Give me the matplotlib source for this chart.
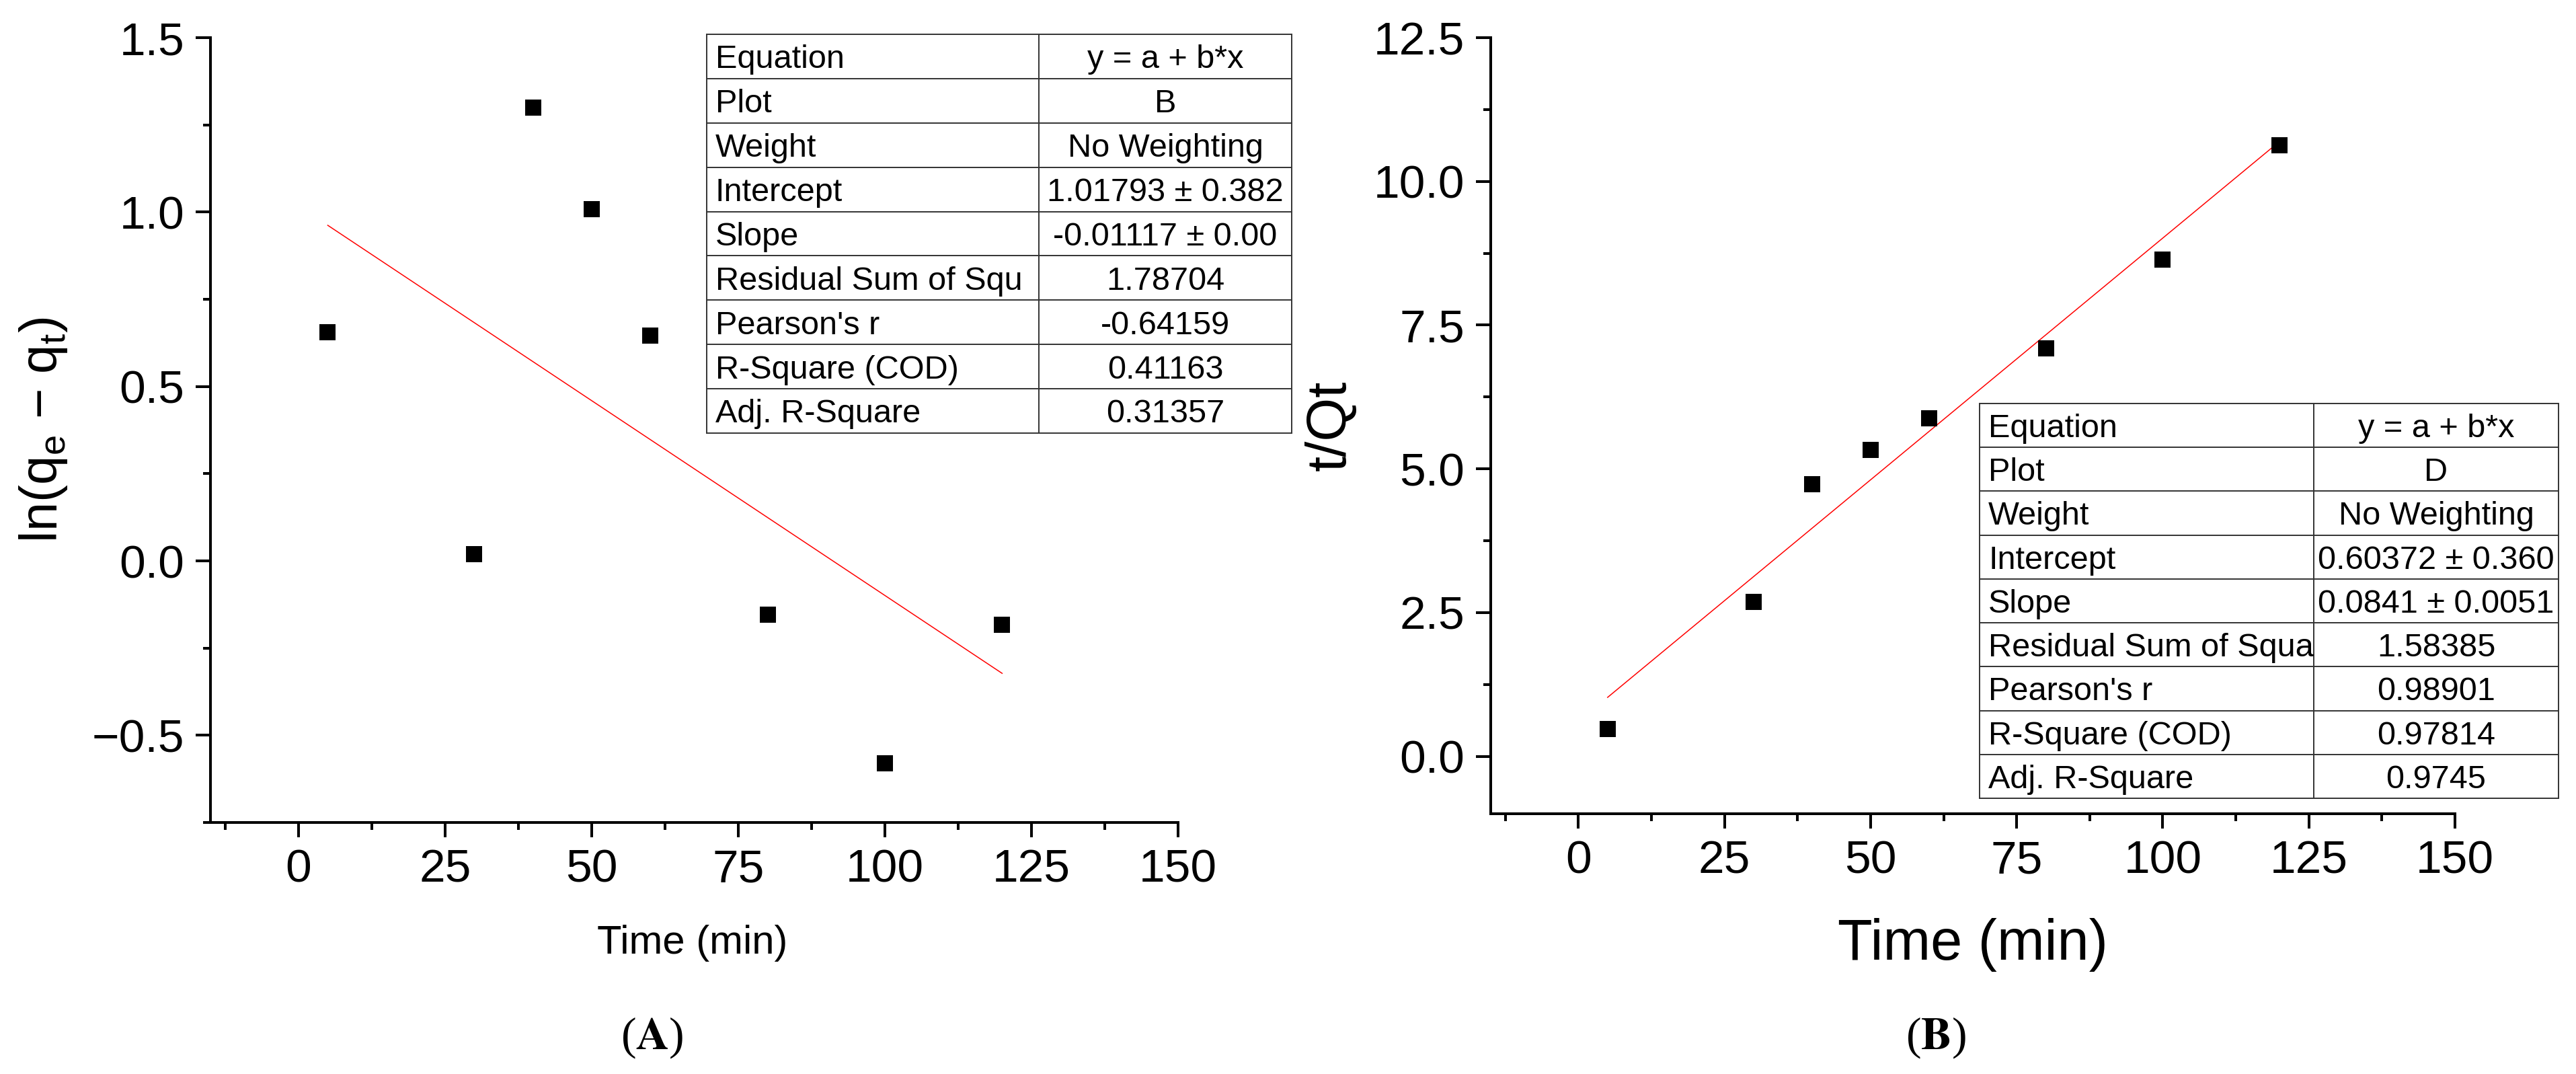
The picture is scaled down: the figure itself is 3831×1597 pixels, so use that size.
import numpy as np
import matplotlib
matplotlib.use("Agg")
import matplotlib.pyplot as plt
from matplotlib.ticker import MultipleLocator
from matplotlib.transforms import Bbox

plt.rcParams['font.family'] = ['Liberation Sans', 'DejaVu Sans']
plt.rcParams['mathtext.fontset'] = 'custom'
plt.rcParams['mathtext.rm'] = 'Liberation Sans'
plt.rcParams['mathtext.it'] = 'Liberation Sans:italic'

# data
time_min = [5, 30, 40, 50, 60, 80, 100, 120]
ln_qe_qt = [0.656, 0.020, 1.299, 1.008, 0.646, -0.155, -0.580, -0.183]
t_over_qt = [0.476, 2.68, 4.73, 5.33, 5.88, 7.10, 8.64, 10.63]

# fit results from the tables (intercept, slope)
fit_a = (1.01793, -0.01117)
fit_b = (0.60372, 0.0841)

row_names_a = ["Equation", "Plot", "Weight", "Intercept", "Slope",
               "Residual Sum of Squ", "Pearson's r", "R-Square (COD)", "Adj. R-Square"]
row_vals_a = ["y = a + b*x", "B", "No Weighting", "1.01793 ± 0.382", "-0.01117 ± 0.00",
              "1.78704", "-0.64159", "0.41163", "0.31357"]
row_names_b = ["Equation", "Plot", "Weight", "Intercept", "Slope",
               "Residual Sum of Squa", "Pearson's r", "R-Square (COD)", "Adj. R-Square"]
row_vals_b = ["y = a + b*x", "D", "No Weighting", "0.60372 ± 0.360", "0.0841 ± 0.0051",
              "1.58385", "0.98901", "0.97814", "0.9745"]

W, H = 3831, 1597
fig = plt.figure(figsize=(W / 100, H / 100), dpi=100)


def px_axes(l, t, r, b):
    return fig.add_axes([l / W, 1 - b / H, (r - l) / W, (b - t) / H])


def style_axes(ax, xmaj, ymaj):
    for s in ['top', 'right']:
        ax.spines[s].set_visible(False)
    for s in ['left', 'bottom']:
        ax.spines[s].set_linewidth(2.9)
    ax.xaxis.set_major_locator(MultipleLocator(xmaj))
    ax.xaxis.set_minor_locator(MultipleLocator(xmaj / 2))
    ax.yaxis.set_major_locator(MultipleLocator(ymaj))
    ax.yaxis.set_minor_locator(MultipleLocator(ymaj / 2))
    ax.tick_params(which='major', direction='out', length=16, width=2.9,
                   labelsize=50, pad=12)
    ax.tick_params(which='minor', direction='out', length=8, width=2.9)


def draw_table(l, m, r, t, b, names, vals, fs=35):
    n = len(names)
    rh = (b - t) / n
    lc = '#333333'
    lw = 1.4
    # frame and grid
    for i in range(n + 1):
        y = 1 - (t + i * rh) / H
        fig.add_artist(plt.Line2D([l / W, r / W], [y, y], color=lc, lw=lw))
    for x in (l, m, r):
        fig.add_artist(plt.Line2D([x / W, x / W], [1 - t / H, 1 - b / H], color=lc, lw=lw))
    cap = 0.716 * fs / 0.72
    for i in range(n):
        cy = t + (i + 0.5) * rh
        yb = 1 - (cy + cap / 2) / H
        box1 = Bbox([[l, H - (t + (i + 1) * rh)], [m, H - (t + i * rh)]])
        box2 = Bbox([[m, H - (t + (i + 1) * rh)], [r, H - (t + i * rh)]])
        t1 = fig.text((l + 13) / W, yb, names[i], fontsize=fs, ha='left', va='baseline')
        t1.set_clip_box(box1)
        t2 = fig.text((m + r) / 2 / W, yb, vals[i], fontsize=fs, ha='center', va='baseline')
        t2.set_clip_box(box2)


# panel A
axA = px_axes(313, 56, 1752, 1223)
axA.scatter(time_min, ln_qe_qt, marker='s', s=17.5 ** 2, color='black', zorder=3, linewidths=0)
xf = np.array([min(time_min), max(time_min)])
axA.plot(xf, fit_a[0] + fit_a[1] * xf, color='red', lw=1.1)
axA.set_xlim(-15, 150)
axA.set_ylim(-0.75, 1.5)
style_axes(axA, 25, 0.5)
axA.set_xlabel("Time (min)", fontsize=43)
axA.xaxis.label.set_va('center')
axA.xaxis.set_label_coords(0.498, -0.154)
axA.set_ylabel(r"ln(q$_\mathrm{e}$ − q$_\mathrm{t}$)", fontsize=56)
axA.yaxis.label.set_va('center')
axA.yaxis.set_label_coords(-0.173, 0.5)

# panel B
axB = px_axes(2217, 56, 3651, 1210)
axB.scatter(time_min, t_over_qt, marker='s', s=17.5 ** 2, color='black', zorder=3, linewidths=0)
axB.plot(xf, fit_b[0] + fit_b[1] * xf, color='red', lw=1.1)
axB.set_xlim(-15, 150)
axB.set_ylim(-1, 12.5)
style_axes(axB, 25, 2.5)
axB.set_xlabel("Time (min)", fontsize=61)
axB.xaxis.label.set_va('center')
axB.xaxis.set_label_coords(0.5, -0.169)
axB.set_ylabel("t/Qt", fontsize=60)
axB.yaxis.label.set_va('center')
axB.yaxis.set_label_coords(-0.166, 0.5)

draw_table(1051, 1545, 1921, 51, 644, row_names_a, row_vals_a)
draw_table(2944, 3441, 3805, 600, 1187, row_names_b, row_vals_b)

fig.text(970 / W, 1 - 1543 / H, r"($\mathbf{A}$)", fontsize=49, family='Liberation Serif',
         math_fontfamily='stix', ha='center', va='center')
fig.text(2879 / W, 1 - 1543 / H, r"($\mathbf{B}$)", fontsize=49, family='Liberation Serif',
         math_fontfamily='stix', ha='center', va='center')

fig.savefig("out.png", dpi=100, facecolor='white')
